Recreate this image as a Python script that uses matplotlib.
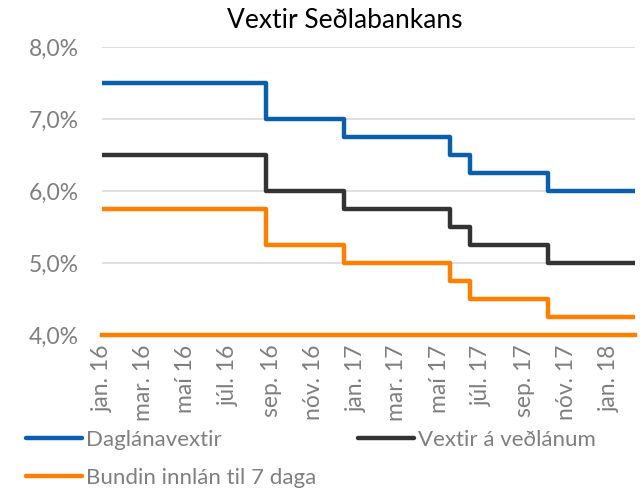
import matplotlib.pyplot as plt
import matplotlib.dates as mdates
import numpy as np
import pandas as pd

plt.rcParams['font.family'] = ['Lato', 'DejaVu Sans']

# Dates of each rate change (first = start of series, last = end of series)
dates = pd.to_datetime(['2016-01-01', '2016-08-24', '2016-12-14', '2017-05-17',
                        '2017-06-14', '2017-10-04', '2018-02-07'])
daglan = [7.5, 7.0, 6.75, 6.5, 6.25, 6.0, 6.0]
vedlan = [6.5, 6.0, 5.75, 5.5, 5.25, 5.0, 5.0]
innlan = [5.75, 5.25, 5.0, 4.75, 4.5, 4.25, 4.25]

tick_dates = pd.date_range('2016-01-01', '2018-01-01', freq='2MS')
tick_labels = ['jan. 16', 'mar. 16', 'maí 16', 'júl. 16', 'sep. 16', 'nóv. 16',
               'jan. 17', 'mar. 17', 'maí 17', 'júl. 17', 'sep. 17', 'nóv. 17',
               'jan. 18']

blue = '#0a5fad'
dark = '#333333'
orange = '#ff7f00'
gray = '#7f7f7f'

fig = plt.figure(figsize=(6.43, 4.94), dpi=100)
ax = fig.add_axes([102/643, 1 - 335/494, 533/643, 288/494])

style = dict(drawstyle='steps-post', lw=3.2, solid_capstyle='round',
             solid_joinstyle='round', zorder=3)
l1, = ax.plot(dates, daglan, color=blue, label='Daglánavextir', **style)
l2, = ax.plot(dates, vedlan, color=dark, label='Vextir á veðlánum', **style)
l3, = ax.plot(dates, innlan, color=orange, label='Bundin innlán til 7 daga', **style)

ax.set_xlim(dates[0], dates[-1])
ax.set_ylim(4, 8)
ax.set_yticks([4, 5, 6, 7, 8])
ax.set_yticklabels(['4,0%', '5,0%', '6,0%', '7,0%', '8,0%'])
ax.set_xticks(tick_dates)
ax.set_xticklabels(tick_labels, rotation=90)
ax.tick_params(axis='both', length=0, labelcolor=gray, labelsize=16.5)
ax.tick_params(axis='x', pad=7)
ax.tick_params(axis='y', pad=17)

ax.grid(axis='y', color='#d9d9d9', lw=1.2)
ax.set_axisbelow(True)
for s in ['top', 'right', 'left']:
    ax.spines[s].set_visible(False)
ax.spines['bottom'].set_color(orange)
ax.spines['bottom'].set_linewidth(3.2)

fig.text(345/643, 1 - 20/494, 'Vextir Seðlabankans', ha='center', va='center',
         fontsize=19, color='black')

# column-major fill: col 1 = blue, orange ; col 2 = dark
leg = fig.legend(handles=[l1, l3, l2], loc='upper left',
                 bbox_to_anchor=(26/643, 1 - 430/494), ncol=2,
                 frameon=False, fontsize=16, handlelength=2.5, handletextpad=0.2,
                 columnspacing=1.9, labelspacing=0.8, borderaxespad=0, borderpad=0)
for t in leg.get_texts():
    t.set_color(gray)
for h in leg.get_lines():
    h.set_linewidth(3.2)

fig.savefig('out.png', dpi=100)
